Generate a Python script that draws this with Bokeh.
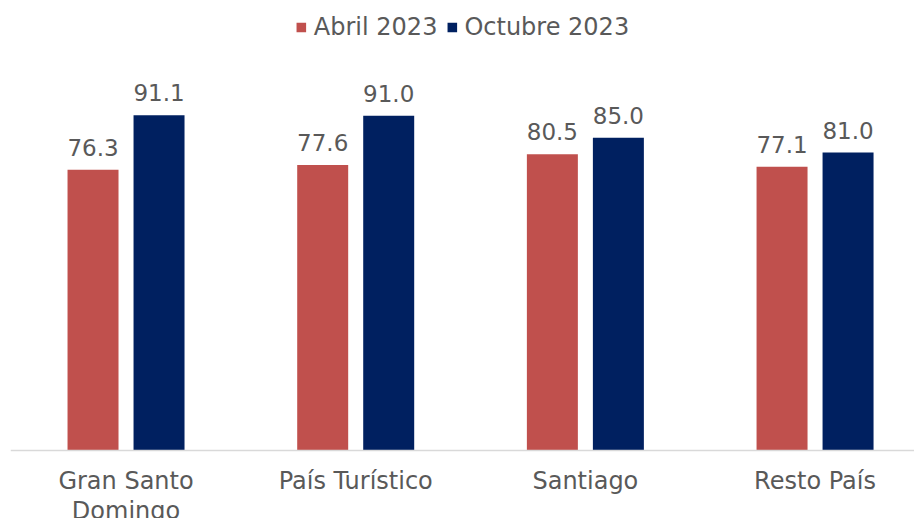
from bokeh.plotting import figure
from bokeh.models import Range1d, ColumnDataSource, Legend, LegendItem, Span
from bokeh.transform import dodge
from bokeh.core.properties import value
from bokeh.embed import file_html
from bokeh.resources import INLINE

categories = ["Gran Santo\nDomingo", "País Turístico", "Santiago", "Resto País"]
abril_2023 = [76.3, 77.6, 80.5, 77.1]
octubre_2023 = [91.1, 91.0, 85.0, 81.0]
series_names = ["Abril 2023", "Octubre 2023"]

RED = "#C0504D"
NAVY = "#002060"
TXT = "#595959"
FONT = "DejaVu Sans"

xs = list(range(len(categories)))
src = ColumnDataSource(dict(
    x=xs, cat=categories, a=abril_2023, o=octubre_2023,
    a_lbl=[f"{v:.1f}" for v in abril_2023],
    o_lbl=[f"{v:.1f}" for v in octubre_2023],
    zero=[0] * len(xs),
))

p = figure(width=914, height=518, output_backend="svg", toolbar_location=None,
           x_range=Range1d(-0.503, 3.433), y_range=Range1d(-18.48, 122.32),
           min_border_left=10, min_border_right=0, min_border_top=0, min_border_bottom=0)
p.xaxis.visible = False
p.yaxis.visible = False
p.xgrid.visible = False
p.ygrid.visible = False
p.outline_line_color = None

off = 0.1437
bw = 0.222
r1 = p.vbar(x=dodge("x", -off), top="a", width=bw, source=src, fill_color=RED, line_color=None)
r2 = p.vbar(x=dodge("x", off), top="o", width=bw, source=src, fill_color=NAVY, line_color=None)

p.add_layout(Span(location=0, dimension="width", line_color="#D9D9D9", line_width=1.5))

for col, lbl, dx in (("a", "a_lbl", -off), ("o", "o_lbl", off)):
    p.text(x=dodge("x", dx), y=col, text=lbl, source=src, text_align="center",
           text_baseline="bottom", y_offset=-14, text_font=value(FONT),
           text_font_size="23px", text_color=TXT)

p.text(x="x", y="zero", text="cat", source=src, text_align="center",
       text_baseline="top", y_offset=16, text_font=value(FONT),
       text_font_size="24px", text_color=TXT, text_line_height=1.08)

legend = Legend(items=[LegendItem(label=series_names[0], renderers=[r1]),
                       LegendItem(label=series_names[1], renderers=[r2])],
                orientation="horizontal", location="top_center",
                label_text_font=FONT, label_text_font_size="24px", label_text_color=TXT,
                glyph_width=12, glyph_height=12, label_standoff=7, spacing=8,
                padding=0, margin=13, border_line_color=None, background_fill_alpha=0,
                label_height=24)
p.add_layout(legend)

open("out.html", "w").write(file_html(p, INLINE))
